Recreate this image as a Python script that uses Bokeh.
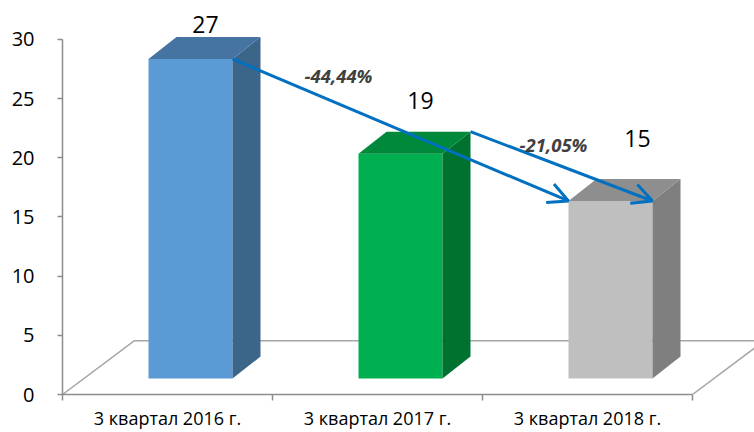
from bokeh.plotting import figure
from bokeh.models import Range1d, FixedTicker, Arrow, OpenHead, Label, ColumnDataSource
from bokeh.embed import file_html
from bokeh.resources import INLINE
from bokeh.core.properties import value

# ---- data ----
categories = ["3 квартал 2016 г.", "3 квартал 2017 г.", "3 квартал 2018 г."]
counts = [27, 19, 15]
y_ticks = [0, 5, 10, 15, 20, 25, 30]

# ---- styles ----
front_colors = ["#5B9BD5", "#00B050", "#BFBFBF"]
side_colors = ["#3B6589", "#00722F", "#7F7F7F"]
top_colors = ["#4674A2", "#00883B", "#8E8E8E"]
FONT = "Open Sans"
AXIS_COLOR = "#8C8C8C"
ARROW_COLOR = "#0070C0"

PX_X = 210.0            # pixels per category
PX_Y = 356.0 / 30.0     # pixels per unit
W, H = 754, 432
LEFT, BOTTOM = 62, 37
frame_h = H - BOTTOM
y_end = frame_h / PX_Y
x_start = -0.5
x_end = x_start + (W - LEFT) / PX_X

# 3D geometry (pixels -> data units)
bar_dx = 28 / PX_X
bar_dy = 22 / PX_Y
base = 16 / PX_Y
bar_l = 86 / PX_X - 0.5
bar_w = 84 / PX_X
floor_dx = 72 / PX_X
floor_dy = 54 / PX_Y

p = figure(width=W, height=H, x_range=Range1d(x_start, x_end), y_range=Range1d(0, y_end),
           output_backend="svg", toolbar_location=None,
           min_border_left=LEFT, min_border_bottom=BOTTOM, min_border_top=0, min_border_right=0)
p.outline_line_color = None
p.grid.visible = False
p.background_fill_color = "white"
p.border_fill_color = "white"

# ---- floor ----
n = len(categories)
fx0, fx1 = x_start, x_start + n
p.multi_line(xs=[[fx0, fx0 + floor_dx, fx1 + floor_dx], [fx1, fx1 + floor_dx]],
             ys=[[0, floor_dy, floor_dy], [0, floor_dy]],
             line_color="#A6A6A6", line_width=1.5)

# ---- bars ----
xs_front_l = [i + bar_l for i in range(n)]
xs_front_r = [x + bar_w for x in xs_front_l]
tops = [base + v for v in counts]
p.quad(left=xs_front_l, right=xs_front_r, bottom=[base] * n, top=tops,
       fill_color=front_colors, line_color=None)
side_xs, side_ys, top_xs, top_ys = [], [], [], []
for i in range(n):
    l, r, t = xs_front_l[i], xs_front_r[i], tops[i]
    side_xs.append([r, r + bar_dx, r + bar_dx, r])
    side_ys.append([base, base + bar_dy, t + bar_dy, t])
    top_xs.append([l, r, r + bar_dx, l + bar_dx])
    top_ys.append([t, t, t + bar_dy, t + bar_dy])
p.patches(side_xs, side_ys, fill_color=side_colors, line_color=None)
p.patches(top_xs, top_ys, fill_color=top_colors, line_color=None)

# ---- value labels ----
lab_dx_px = [57, 62, 69]
lab_dy_px = [35, 53, 63]
src = ColumnDataSource(dict(
    x=[xs_front_l[i] + lab_dx_px[i] / PX_X for i in range(n)],
    y=[tops[i] + lab_dy_px[i] / PX_Y for i in range(n)],
    t=[str(v) for v in counts]))
p.text(x="x", y="y", text="t", source=src, text_font=value(FONT), text_font_size="23px",
       text_color="black", text_align="center", text_baseline="middle")

# ---- arrows ----
a1 = (xs_front_r[0], tops[0], xs_front_l[2], tops[2])
a2 = (xs_front_r[1] + bar_dx, tops[1] + bar_dy, xs_front_r[2], tops[2])
for (xs0, ys0, xe, ye) in (a1, a2):
    p.add_layout(Arrow(x_start=xs0, y_start=ys0, x_end=xe, y_end=ye,
                       line_color=ARROW_COLOR, line_width=3,
                       end=OpenHead(size=20, line_color=ARROW_COLOR, line_width=3)))

# ---- percent change labels ----
pct1 = (counts[2] - counts[0]) / counts[0] * 100
pct2 = (counts[2] - counts[1]) / counts[1] * 100
for (ax, ay, _, _), pct, (ox, oy) in ((a1, pct1, (106, 17)), (a2, pct2, (83, 13))):
    txt = f"{pct:.2f}%".replace(".", ",")
    p.add_layout(Label(x=ax + ox / PX_X, y=ay - oy / PX_Y, text=txt,
                       text_font=FONT, text_font_size="18.5px", text_font_style="bold italic",
                       text_color="#404040", text_align="center", text_baseline="middle"))

# ---- axes ----
ya = p.yaxis[0]
ya.ticker = FixedTicker(ticks=y_ticks)
ya.bounds = (0, 30)
ya.axis_line_color = AXIS_COLOR
ya.axis_line_width = 1.5
ya.major_tick_line_color = AXIS_COLOR
ya.major_tick_line_width = 1.5
ya.major_tick_out = 5
ya.major_tick_in = 0
ya.minor_tick_line_color = None
ya.major_label_standoff = 23
ya.major_label_text_font = FONT
ya.major_label_text_font_size = "20px"
ya.major_label_text_color = "black"

xa = p.xaxis[0]
xa.ticker = FixedTicker(ticks=list(range(n)), minor_ticks=[i - 0.5 for i in range(n + 1)])
xa.bounds = (x_start, x_start + n)
xa.major_label_overrides = {i: c for i, c in enumerate(categories)}
xa.axis_line_color = AXIS_COLOR
xa.axis_line_width = 1.5
xa.major_tick_line_color = None
xa.major_tick_out = 0
xa.major_tick_in = 0
xa.minor_tick_line_color = AXIS_COLOR
xa.minor_tick_line_width = 1.5
xa.minor_tick_out = 6
xa.minor_tick_in = 0
xa.major_label_standoff = 5
xa.major_label_text_font = FONT
xa.major_label_text_font_size = "18px"
xa.major_label_text_color = "black"

open("out.html", "w").write(file_html(p, INLINE))
